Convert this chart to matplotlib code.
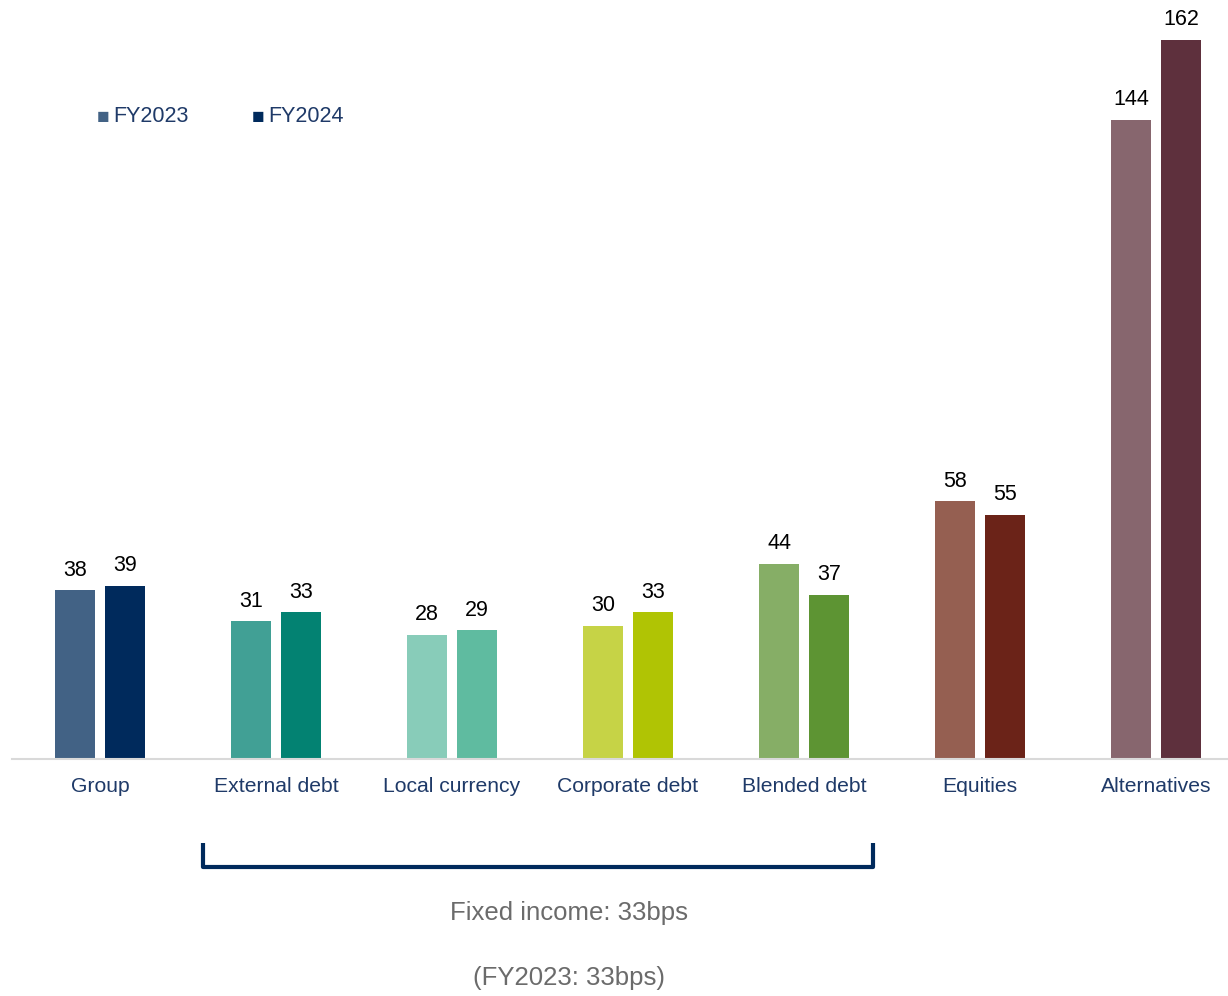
import matplotlib
matplotlib.use("Agg")
import matplotlib.pyplot as plt
import numpy as np

plt.rcParams['font.family'] = ['Liberation Sans', 'DejaVu Sans']

categories = ["Group", "External debt", "Local currency", "Corporate debt",
              "Blended debt", "Equities", "Alternatives"]
fy2023 = [38, 31, 28, 30, 44, 58, 144]
fy2024 = [39, 33, 29, 33, 37, 55, 162]

colors_2023 = ["#426285", "#41A095", "#88CCB9", "#C6D346", "#86AE66", "#955F51", "#87666E"]
colors_2024 = ["#002A5C", "#038272", "#5FBBA0", "#B0C404", "#5D9433", "#6B2318", "#5E303D"]

label_color = "#1F3A68"
note_color = "#6B6B6B"

W, H = 1228, 996
fig = plt.figure(figsize=(W / 100, H / 100), dpi=100)
px_per_unit = 4.44
ax = fig.add_axes([12 / W, (H - 759) / H, 1 - 12 / W, 759 / H])

x = np.arange(len(categories))
bw = 40 / 176
off = 25 / 176
b1 = ax.bar(x - off, fy2023, width=bw, color=colors_2023, label="FY2023")
b2 = ax.bar(x + off, fy2024, width=bw, color=colors_2024, label="FY2024")

for bars, vals in ((b1, fy2023), (b2, fy2024)):
    for rect, v in zip(bars, vals):
        ax.annotate(str(v), (rect.get_x() + rect.get_width() / 2, v),
                    xytext=(0, 7), textcoords="offset points",
                    ha="center", va="bottom", fontsize=15.5, color="black")

ax.set_xlim(-0.5, (W - 100) / 176)
ax.set_ylim(0, 759 / px_per_unit)
ax.set_yticks([])
for s in ["top", "right", "left"]:
    ax.spines[s].set_visible(False)
ax.spines["bottom"].set_color("#D9D9D9")
ax.spines["bottom"].set_linewidth(1.5)
ax.set_xticks(x)
ax.set_xticklabels(categories, fontsize=15.2, color=label_color)
ax.tick_params(axis="x", length=0, pad=13)

# legend
fig.text(97 / W, 1 - 117 / H, "\u25a0", color=colors_2023[0], fontsize=15,
         ha="left", va="center")
fig.text(113 / W, 1 - 117 / H, "FY2023", color=label_color, fontsize=15.5,
         ha="left", va="center")
fig.text(252 / W, 1 - 117 / H, "\u25a0", color=colors_2024[0], fontsize=15,
         ha="left", va="center")
fig.text(268 / W, 1 - 117 / H, "FY2024", color=label_color, fontsize=15.5,
         ha="left", va="center")

# bracket under fixed income categories
bx = [203 / W, 203 / W, 873 / W, 873 / W]
by = [1 - 843 / H, 1 - 867 / H, 1 - 867 / H, 1 - 843 / H]
fig.add_artist(plt.Line2D(bx, by, color="#002A5C", lw=3,
                          solid_joinstyle="round", solid_capstyle="butt"))

fig.text(569 / W, 1 - 913 / H, "Fixed income: 33bps", color=note_color,
         fontsize=18.5, ha="center", va="center")
fig.text(569 / W, 1 - 978 / H, "(FY2023: 33bps)", color=note_color,
         fontsize=18.5, ha="center", va="center")

fig.savefig("out.png", dpi=100)
